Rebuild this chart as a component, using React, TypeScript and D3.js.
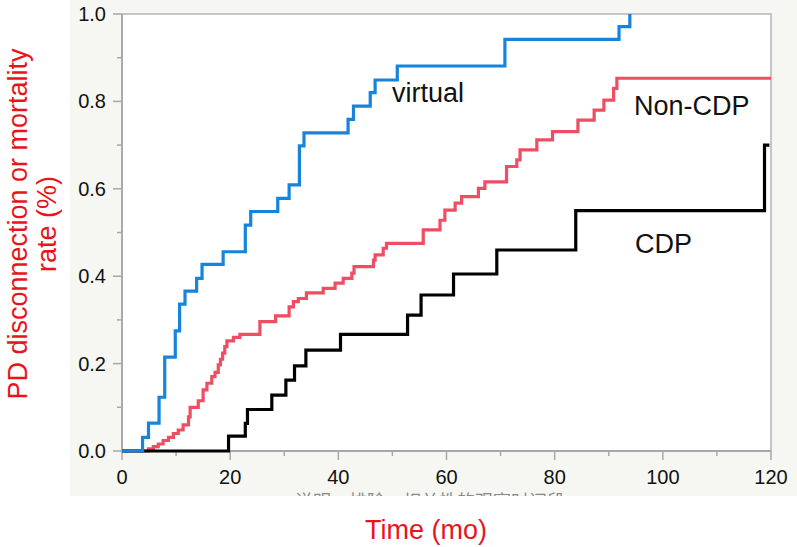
import React from "react";
import * as d3 from "d3";

// ---- data: [time (months), cumulative rate] at each step ----
const virtualSteps: [number, number][] = [
  [0, 0], [3.8, 0.031], [4.9, 0.064], [6.85, 0.123], [7.9, 0.215], [9.85, 0.275],
  [10.65, 0.336], [11.65, 0.366], [13.8, 0.395], [14.8, 0.427], [18.7, 0.456],
  [22.8, 0.517], [23.8, 0.548], [28.8, 0.578], [30.9, 0.609], [32.8, 0.698],
  [33.65, 0.728], [41.8, 0.759], [42.8, 0.789], [45.9, 0.82], [46.8, 0.849],
  [50.9, 0.881], [70.8, 0.942], [91.9, 0.971], [93.9, 1.0],
];
const virtualEnd = 93.9;

const nonCdpSteps: [number, number][] = [
  [0, 0], [4.9, 0.005], [5.8, 0.01], [6.7, 0.016], [7.6, 0.024], [8.6, 0.031],
  [9.5, 0.04], [10.4, 0.048], [11.3, 0.06], [12.3, 0.078], [12.6, 0.1],
  [14.1, 0.115], [15.0, 0.14], [15.7, 0.155], [16.6, 0.17], [17.2, 0.18],
  [17.8, 0.197], [18.2, 0.21], [18.6, 0.224], [19.0, 0.239], [19.4, 0.252],
  [20.6, 0.26], [21.8, 0.267], [25.5, 0.296], [28.4, 0.309], [30.9, 0.33],
  [31.7, 0.342], [32.6, 0.349], [34.1, 0.362], [37.2, 0.372], [39.4, 0.384],
  [40.9, 0.395], [42.5, 0.407], [42.9, 0.422], [46.5, 0.437], [46.8, 0.449],
  [48.3, 0.464], [48.9, 0.475], [55.7, 0.506], [58.8, 0.528], [59.7, 0.551],
  [61.6, 0.567], [62.8, 0.582], [65.9, 0.601], [67.1, 0.616], [71.1, 0.651],
  [73.0, 0.666], [73.6, 0.689], [76.7, 0.712], [79.6, 0.731], [84.3, 0.757],
  [87.3, 0.78], [89.1, 0.803], [90.9, 0.83], [91.5, 0.853],
];
const nonCdpEnd = 120;

const cdpSteps: [number, number][] = [
  [0, 0], [19.7, 0.034], [22.8, 0.063], [23.2, 0.095], [27.7, 0.128],
  [30.3, 0.162], [31.9, 0.195], [34.0, 0.231], [40.4, 0.267], [52.8, 0.311],
  [55.3, 0.357], [61.3, 0.405], [69.3, 0.46], [83.9, 0.55], [118.8, 0.7],
];
const cdpEnd = 119.7;

const xTicks = [0, 20, 40, 60, 80, 100, 120];
const xMinorTicks = [10, 30, 50, 70, 90, 110];
const yTicks = [0, 0.2, 0.4, 0.6, 0.8, 1.0];
const yMinorTicks = [0.1, 0.3, 0.5, 0.7, 0.9];

const seriesLabels = ["virtual", "Non-CDP", "CDP"];
const xTitle = "Time (mo)";
const yTitleLines = ["PD disconnection or mortality", "rate (%)"];
const hiddenCaption = "说明：排除、相关性的观察时间段";

export default function App() {
  const W = 797, H = 547;
  const left = 122, right = 771, top = 14, bottom = 451;
  const x = d3.scaleLinear().domain([0, 120]).range([left, right]);
  const y = d3.scaleLinear().domain([0, 1]).range([bottom, top]);

  const withEnd = (s: [number, number][], end: number): [number, number][] => [
    ...s,
    [end, s[s.length - 1][1]],
  ];
  const line = d3
    .line<[number, number]>()
    .x((d) => x(d[0]))
    .y((d) => y(d[1]))
    .curve(d3.curveStepAfter);

  const font = "Arial, 'Liberation Sans', Helvetica, sans-serif";
  const axisGray = "#a8a8a8";

  return (
    <svg
      width={W}
      height={H}
      style={{ position: "absolute", left: 0, top: 0, background: "#fff" }}
      fontFamily={font}
    >
      <defs>
        <clipPath id="panelClip">
          <rect x={70} y={0} width={727} height={496} />
        </clipPath>
      </defs>
      <rect x={0} y={0} width={W} height={H} fill="#fff" />
      <rect x={70} y={0} width={727} height={496} fill="#f6f6f3" />
      <g clipPath="url(#panelClip)">
        <text
          x={430}
          y={508}
          fontSize={18}
          fill="#8a8a8a"
          textAnchor="middle"
          fontFamily="'Noto Sans CJK SC', sans-serif"
        >
          {hiddenCaption}
        </text>
      </g>
      <rect x={left} y={top} width={right - left} height={bottom - top} fill="#fff" stroke="#b5b5b5" strokeWidth={1.5} />

      {/* x ticks */}
      {xTicks.map((t) => (
        <g key={"xt" + t}>
          <line x1={x(t)} x2={x(t)} y1={bottom} y2={bottom + 9} stroke={axisGray} strokeWidth={1.5} />
          <text x={x(t)} y={484} fontSize={20} textAnchor="middle" fill="#111">
            {t}
          </text>
        </g>
      ))}
      {xMinorTicks.map((t) => (
        <line key={"xm" + t} x1={x(t)} x2={x(t)} y1={bottom} y2={bottom + 5} stroke={axisGray} strokeWidth={1.5} />
      ))}
      {/* y ticks */}
      {yTicks.map((t) => (
        <g key={"yt" + t}>
          <line x1={left - 9} x2={left} y1={y(t)} y2={y(t)} stroke={axisGray} strokeWidth={1.5} />
          <text x={106} y={y(t) + 7} fontSize={20} textAnchor="end" fill="#111">
            {t.toFixed(1)}
          </text>
        </g>
      ))}
      {yMinorTicks.map((t) => (
        <line key={"ym" + t} x1={left - 5} x2={left} y1={y(t)} y2={y(t)} stroke={axisGray} strokeWidth={1.5} />
      ))}
      <line x1={left} x2={left} y1={top} y2={bottom} stroke={axisGray} strokeWidth={1.8} />
      <line x1={left} x2={right} y1={bottom} y2={bottom} stroke={axisGray} strokeWidth={1.8} />

      {/* curves */}
      <path d={line(withEnd(nonCdpSteps, nonCdpEnd)) || ""} fill="none" stroke="#ef4d62" strokeWidth={3.2} />
      <path d={line(withEnd(cdpSteps, cdpEnd)) || ""} fill="none" stroke="#000" strokeWidth={3.2} />
      <path d={line(withEnd(virtualSteps, virtualEnd)) || ""} fill="none" stroke="#1784dc" strokeWidth={3.2} />

      {/* series labels */}
      <text x={392} y={102} fontSize={27} fill="#111">{seriesLabels[0]}</text>
      <text x={634} y={115} fontSize={27} fill="#111">{seriesLabels[1]}</text>
      <text x={635} y={253} fontSize={27} fill="#111">{seriesLabels[2]}</text>

      {/* axis titles */}
      <text x={426} y={539} fontSize={27} fill="#e8141c" textAnchor="middle">
        {xTitle}
      </text>
      <g transform="translate(27,224) rotate(-90)">
        <text x={0} y={0} fontSize={27} fill="#e8141c" textAnchor="middle">
          {yTitleLines[0]}
        </text>
        <text x={0} y={29} fontSize={27} fill="#e8141c" textAnchor="middle">
          {yTitleLines[1]}
        </text>
      </g>
    </svg>
  );
}
